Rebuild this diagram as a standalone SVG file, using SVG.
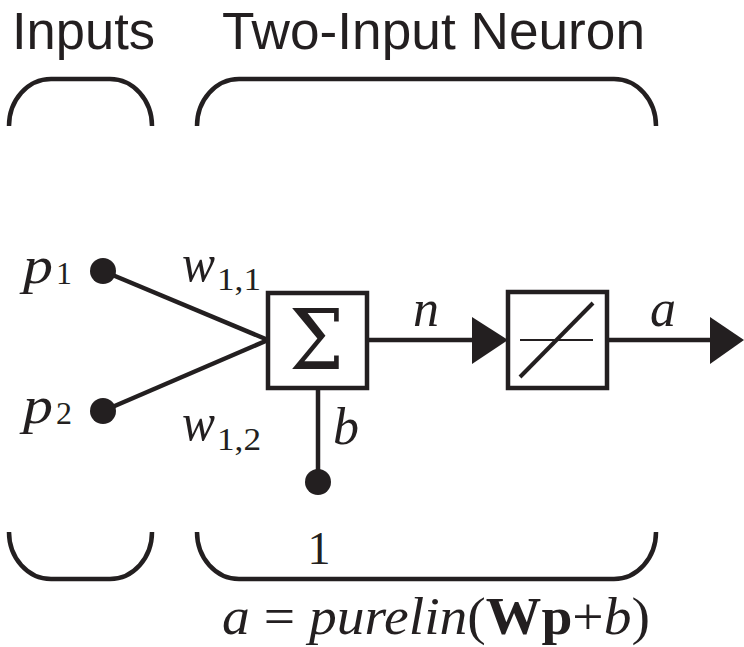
<svg xmlns="http://www.w3.org/2000/svg" width="744" height="647" viewBox="0 0 744 647">
<style>
.ln{stroke:#231f20;stroke-width:4.5;fill:none}
.br{stroke:#231f20;stroke-width:4.5;fill:none}
.hd{font-family:"Liberation Sans",Arial,sans-serif;font-size:51px;fill:#231f20}
.it{font-family:"Liberation Serif","Times New Roman",serif;font-style:italic;font-size:52px;fill:#231f20}
.rm{font-family:"Liberation Serif","Times New Roman",serif;font-size:32px;fill:#231f20}
.dot{fill:#231f20}
.box{fill:#fff;stroke:#231f20;stroke-width:4.5}
</style>
<rect width="744" height="647" fill="#fff"/>
<g id="headers">
<text class="hd" x="12" y="49" textLength="143" lengthAdjust="spacingAndGlyphs">Inputs</text>
<text class="hd" x="222" y="49" textLength="423" lengthAdjust="spacingAndGlyphs">Two-Input Neuron</text>
<path class="br" d="M9 126 A42 47 0 0 1 51 79 L110 79 A42 47 0 0 1 152 126"/>
<path class="br" d="M197 126 A42 47 0 0 1 239 79 L614 79 A42 47 0 0 1 656 126"/>
<path class="br" d="M9 532 A42 47 0 0 0 51 579 L110 579 A42 47 0 0 0 152 532"/>
<path class="br" d="M197 532 A42 47 0 0 0 239 579 L614 579 A42 47 0 0 0 656 532"/>
</g>
<g id="connectors">
<line class="ln" x1="103" y1="271" x2="268" y2="340"/>
<line class="ln" x1="103" y1="411" x2="268" y2="340"/>
<line class="ln" x1="318" y1="388" x2="318" y2="482"/>
<line class="ln" x1="367" y1="340" x2="474" y2="340"/>
<polygon class="dot" points="472,317 508,340 472,364"/>
<line class="ln" x1="607" y1="340" x2="712" y2="340"/>
<polygon class="dot" points="710,317 744,340 710,364"/>
</g>
<g id="p1">
<circle class="dot" cx="103" cy="271" r="13"/>
<text class="it" x="23" y="283" textLength="30" lengthAdjust="spacingAndGlyphs">p</text><text class="rm" x="56" y="284">1</text>
</g>
<g id="p2">
<circle class="dot" cx="103" cy="411" r="13"/>
<text class="it" x="23" y="423" textLength="30" lengthAdjust="spacingAndGlyphs">p</text><text class="rm" x="56" y="424">2</text>
</g>
<g id="weights">
<text class="it" x="182" y="281" textLength="33" lengthAdjust="spacingAndGlyphs">w</text><text class="rm" x="217" y="290" textLength="44" lengthAdjust="spacingAndGlyphs">1,1</text>
<text class="it" x="182" y="440" textLength="33" lengthAdjust="spacingAndGlyphs">w</text><text class="rm" x="217" y="450" textLength="44" lengthAdjust="spacingAndGlyphs">1,2</text>
</g>
<g id="sum">
<rect class="box" x="268" y="293" width="99" height="95"/>
<text x="289" y="369" textLength="55" lengthAdjust="spacingAndGlyphs" style="font-family:'DejaVu Serif','Liberation Serif',serif;font-size:84px;fill:#231f20">Σ</text>
</g>
<g id="bias">
<circle class="dot" cx="318" cy="482" r="13"/>
<text class="it" x="333" y="444">b</text>
<text x="319" y="564" text-anchor="middle" style="font-family:'Liberation Serif','Times New Roman',serif;font-size:46px;fill:#231f20">1</text>
</g>
<g id="transfer">
<rect class="box" x="508" y="292" width="99" height="96"/>
<line x1="520" y1="340" x2="593" y2="340" stroke="#231f20" stroke-width="2"/>
<line x1="520" y1="377" x2="593" y2="303" stroke="#231f20" stroke-width="4"/>
</g>
<g id="labels">
<text class="it" x="413" y="326">n</text>
<text class="it" x="650" y="326">a</text>
</g>
<g id="formula">
<text x="222" y="634" textLength="428" lengthAdjust="spacingAndGlyphs" style="font-family:'Liberation Serif','Times New Roman',serif;font-size:52px;fill:#231f20"><tspan font-style="italic">a</tspan> = <tspan font-style="italic">purelin</tspan>(<tspan font-weight="bold">Wp</tspan>+<tspan font-style="italic">b</tspan>)</text>
</g>
</svg>
